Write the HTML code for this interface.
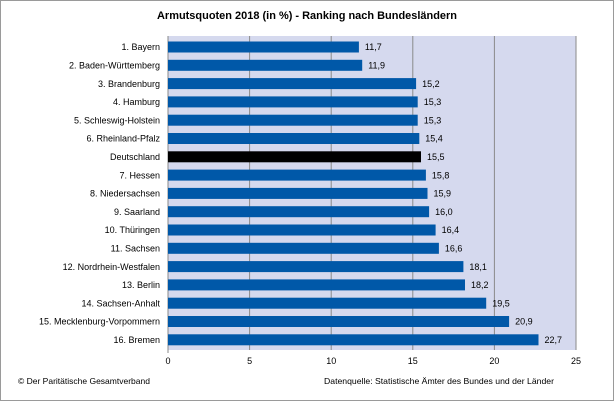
<!DOCTYPE html>
<html><head><meta charset="utf-8"><style>
html,body{margin:0;padding:0;background:#fff}
svg{display:block}
text{font-family:"Liberation Sans",sans-serif;fill:#000}
</style></head><body>
<svg width="615" height="402" viewBox="0 0 615 402" xmlns="http://www.w3.org/2000/svg">
<rect x="0.5" y="0.5" width="613" height="400" fill="#fff" stroke="#9a9a9a"/>
<text x="307" y="19" font-size="11" font-weight="bold" text-anchor="middle" textLength="300" lengthAdjust="spacingAndGlyphs">Armutsquoten 2018 (in %) - Ranking nach Bundesländern</text>
<rect x="168" y="36" width="408" height="314" fill="#d5d9ee"/>
<g stroke="#8a8a8a" stroke-width="1">
<line x1="249.6" y1="36" x2="249.6" y2="350"/>
<line x1="331.2" y1="36" x2="331.2" y2="350"/>
<line x1="412.8" y1="36" x2="412.8" y2="350"/>
<line x1="494.4" y1="36" x2="494.4" y2="350"/>
<line x1="576" y1="36" x2="576" y2="350"/>
<line x1="168" y1="36" x2="168" y2="353"/>
</g>
<g font-size="9">
<g transform="translate(0,47)"><rect x="168" y="-5.5" width="190.9" height="11" fill="#0058a8"/><text x="160" y="3.2" text-anchor="end">1. Bayern</text><text x="364.9" y="3.2">11,7</text></g>
<g transform="translate(0,65.3)"><rect x="168" y="-5.5" width="194.2" height="11" fill="#0058a8"/><text x="160" y="3.2" text-anchor="end">2. Baden-Württemberg</text><text x="368.2" y="3.2">11,9</text></g>
<g transform="translate(0,83.6)"><rect x="168" y="-5.5" width="248.1" height="11" fill="#0058a8"/><text x="160" y="3.2" text-anchor="end">3. Brandenburg</text><text x="422.1" y="3.2">15,2</text></g>
<g transform="translate(0,101.9)"><rect x="168" y="-5.5" width="249.7" height="11" fill="#0058a8"/><text x="160" y="3.2" text-anchor="end">4. Hamburg</text><text x="423.7" y="3.2">15,3</text></g>
<g transform="translate(0,120.2)"><rect x="168" y="-5.5" width="249.7" height="11" fill="#0058a8"/><text x="160" y="3.2" text-anchor="end">5. Schleswig-Holstein</text><text x="423.7" y="3.2">15,3</text></g>
<g transform="translate(0,138.5)"><rect x="168" y="-5.5" width="251.3" height="11" fill="#0058a8"/><text x="160" y="3.2" text-anchor="end">6. Rheinland-Pfalz</text><text x="425.3" y="3.2">15,4</text></g>
<g transform="translate(0,156.8)"><rect x="168" y="-5.5" width="253" height="11" fill="#000"/><text x="160" y="3.2" text-anchor="end">Deutschland</text><text x="427" y="3.2">15,5</text></g>
<g transform="translate(0,175.1)"><rect x="168" y="-5.5" width="257.9" height="11" fill="#0058a8"/><text x="160" y="3.2" text-anchor="end">7. Hessen</text><text x="431.9" y="3.2">15,8</text></g>
<g transform="translate(0,193.4)"><rect x="168" y="-5.5" width="259.5" height="11" fill="#0058a8"/><text x="160" y="3.2" text-anchor="end">8. Niedersachsen</text><text x="433.5" y="3.2">15,9</text></g>
<g transform="translate(0,211.7)"><rect x="168" y="-5.5" width="261.1" height="11" fill="#0058a8"/><text x="160" y="3.2" text-anchor="end">9. Saarland</text><text x="435.1" y="3.2">16,0</text></g>
<g transform="translate(0,230)"><rect x="168" y="-5.5" width="267.6" height="11" fill="#0058a8"/><text x="160" y="3.2" text-anchor="end">10. Thüringen</text><text x="441.6" y="3.2">16,4</text></g>
<g transform="translate(0,248.3)"><rect x="168" y="-5.5" width="270.9" height="11" fill="#0058a8"/><text x="160" y="3.2" text-anchor="end">11. Sachsen</text><text x="444.9" y="3.2">16,6</text></g>
<g transform="translate(0,266.6)"><rect x="168" y="-5.5" width="295.4" height="11" fill="#0058a8"/><text x="160" y="3.2" text-anchor="end">12. Nordrhein-Westfalen</text><text x="469.4" y="3.2">18,1</text></g>
<g transform="translate(0,284.9)"><rect x="168" y="-5.5" width="297" height="11" fill="#0058a8"/><text x="160" y="3.2" text-anchor="end">13. Berlin</text><text x="471" y="3.2">18,2</text></g>
<g transform="translate(0,303.2)"><rect x="168" y="-5.5" width="318.2" height="11" fill="#0058a8"/><text x="160" y="3.2" text-anchor="end">14. Sachsen-Anhalt</text><text x="492.2" y="3.2">19,5</text></g>
<g transform="translate(0,321.5)"><rect x="168" y="-5.5" width="341.1" height="11" fill="#0058a8"/><text x="160" y="3.2" text-anchor="end">15. Mecklenburg-Vorpommern</text><text x="515.1" y="3.2">20,9</text></g>
<g transform="translate(0,339.8)"><rect x="168" y="-5.5" width="370.5" height="11" fill="#0058a8"/><text x="160" y="3.2" text-anchor="end">16. Bremen</text><text x="544.5" y="3.2">22,7</text></g>
</g>
<g font-size="9" text-anchor="middle">
<text x="168" y="364">0</text><text x="249.6" y="364">5</text><text x="331.2" y="364">10</text><text x="412.8" y="364">15</text><text x="494.4" y="364">20</text><text x="576" y="364">25</text>
</g>
<text x="18" y="384" font-size="8.5">© Der Paritätische Gesamtverband</text>
<text x="324" y="384" font-size="8.5" textLength="230" lengthAdjust="spacingAndGlyphs">Datenquelle: Statistische Ämter des Bundes und der Länder</text>
</svg>
</body></html>
